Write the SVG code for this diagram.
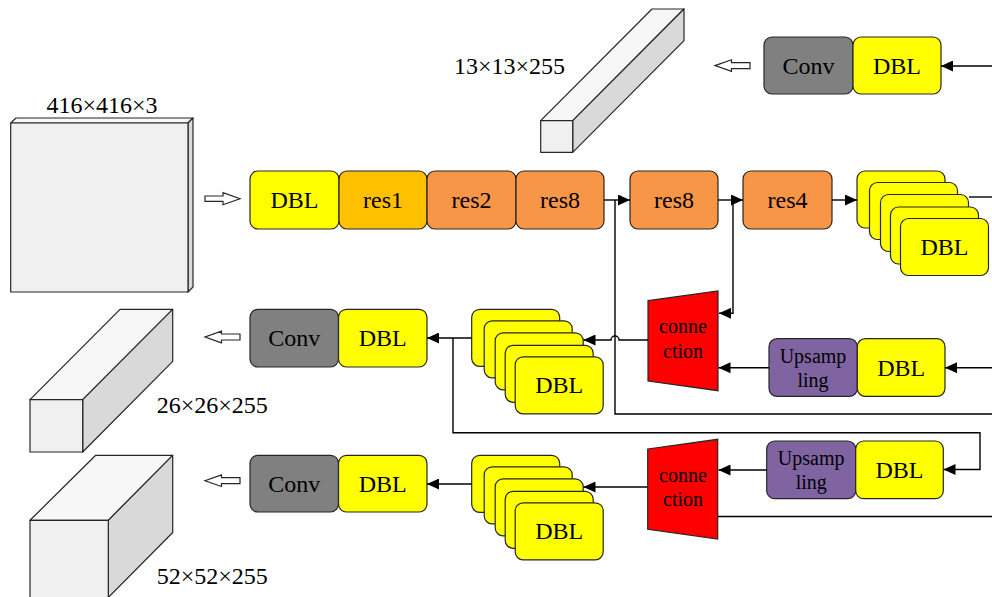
<svg xmlns="http://www.w3.org/2000/svg" width="992" height="597" viewBox="0 0 992 597">
<style>
.b{stroke:#262626;stroke-width:1.2}
.y{fill:#ffff00}
.o{fill:#f79646}
.r1{fill:#ffc000}
.g{fill:#808080}
.p{fill:#8064a2}
.rd{fill:#ff0000}
text{font-family:'Liberation Serif','DejaVu Serif',serif;fill:#000}
.t{font-size:24px;text-anchor:middle}
.ts{font-size:20px;text-anchor:middle}
.lab{font-size:24px}
.fr{fill:#f0f0f0;stroke:#262626;stroke-width:1.2;stroke-linejoin:round}
.tp{fill:#f7f7f7;stroke:#262626;stroke-width:1.2;stroke-linejoin:round}
.sd{fill:#d9d9d9;stroke:#262626;stroke-width:1.2;stroke-linejoin:round}
.oa{fill:#ffffff;stroke:#262626;stroke-width:1.2}
.c{fill:none;stroke:#000;stroke-width:1.4}
.ca{fill:none;stroke:#000;stroke-width:1.4;marker-end:url(#ah)}
</style>
<defs>
<marker id="ah" markerUnits="userSpaceOnUse" markerWidth="12" markerHeight="11" refX="12" refY="5.5" orient="auto">
<path d="M0,0 L12,5.5 L0,11 z" fill="#000"/>
</marker>
<g id="stk">
<rect x="0" y="0" width="88" height="57" rx="8" class="b y"/>
<rect x="12.5" y="11.5" width="88" height="57" rx="8" class="b y"/>
<rect x="23.5" y="23.5" width="88" height="57" rx="8" class="b y"/>
<rect x="33.5" y="36" width="88" height="57" rx="8" class="b y"/>
<rect x="43.5" y="47.5" width="88" height="57" rx="8" class="b y"/>
<text x="87.5" y="84" class="t" font-family="Liberation Serif, serif">DBL</text>
</g>
</defs>

<g id="input">
<path class="tp" d="M10.7,123 L16,118 H193 L188,123Z"/>
<path class="sd" d="M188,123 L193,118 V287 L188,292Z"/>
<rect class="fr" x="10.7" y="123" width="177.3" height="169"/>
<text class="t" x="102" y="112.7" font-family="Liberation Serif, serif">416×416×3</text>
</g>

<g id="out13">
<path class="tp" d="M540.7,120.7 L652,9 H684 L572.7,120.7Z"/>
<path class="sd" d="M572.7,120.7 L684,9 V40.7 L572.7,152.3Z"/>
<rect class="fr" x="540.7" y="120.7" width="32" height="31.6"/>
<text class="lab" x="454" y="74" font-family="Liberation Serif, serif">13×13×255</text>
</g>

<g id="out26">
<path class="tp" d="M30,399.7 L120,309.3 H172.7 L82.7,399.7Z"/>
<path class="sd" d="M82.7,399.7 L172.7,309.3 V361.3 L82.7,452Z"/>
<rect class="fr" x="30" y="399.7" width="52.7" height="52.3"/>
<text class="lab" x="156.7" y="413" font-family="Liberation Serif, serif">26×26×255</text>
</g>

<g id="out52">
<path class="tp" d="M30,520.3 L95.7,455.3 H172.7 L108.3,520.3Z"/>
<path class="sd" d="M108.3,520.3 L172.7,455.3 V532.5 L108.3,597.5Z"/>
<rect class="fr" x="30" y="520.3" width="78.3" height="80"/>
<text class="lab" x="156.7" y="584" font-family="Liberation Serif, serif">52×52×255</text>
</g>

<g id="openarrows">
<path class="oa" d="M205,196 H223 V192.7 L240,198.7 L223,204.7 V201.4 H205Z"/>
<path class="oa" d="M750,62.7 H731.5 V59.8 L715,65.6 L731.5,71.4 V68.6 H750Z"/>
<path class="oa" d="M240,334 H221.5 V331.2 L205,337 L221.5,342.8 V340 H240Z"/>
<path class="oa" d="M240,477.7 H221.5 V474.9 L205,480.7 L221.5,486.5 V483.7 H240Z"/>
</g>

<g id="n-dbl1"><rect x="250" y="171" width="89" height="58" rx="8" class="b y"/><text class="t" x="294.5" y="208.3" font-family="Liberation Serif, serif">DBL</text></g>
<g id="n-res1"><rect x="339" y="171" width="88" height="58" rx="8" class="b r1"/><text class="t" x="383" y="208.3" font-family="Liberation Serif, serif">res1</text></g>
<g id="n-res2"><rect x="427" y="171" width="89" height="58" rx="8" class="b o"/><text class="t" x="471.5" y="208.3" font-family="Liberation Serif, serif">res2</text></g>
<g id="n-res8a"><rect x="516" y="171" width="88" height="58" rx="8" class="b o"/><text class="t" x="560" y="208.3" font-family="Liberation Serif, serif">res8</text></g>
<g id="n-res8b"><rect x="630" y="171" width="88" height="58" rx="8" class="b o"/><text class="t" x="674" y="208.3" font-family="Liberation Serif, serif">res8</text></g>
<g id="n-res4"><rect x="743" y="171" width="89" height="58" rx="8" class="b o"/><text class="t" x="787.5" y="208.3" font-family="Liberation Serif, serif">res4</text></g>
<g id="n-stack1"><use href="#stk" x="857" y="171"/></g>

<g id="n-conv1"><rect x="764" y="37" width="89" height="57" rx="8" class="b g"/><text class="t" x="808.5" y="73.5" font-family="Liberation Serif, serif">Conv</text></g>
<g id="n-dbl13"><rect x="853" y="37" width="88" height="57" rx="8" class="b y"/><text class="t" x="897" y="73.5" font-family="Liberation Serif, serif">DBL</text></g>

<g id="n-conv2"><rect x="250" y="309.3" width="88.5" height="57.7" rx="8" class="b g"/><text class="t" x="294.2" y="346" font-family="Liberation Serif, serif">Conv</text></g>
<g id="n-dbl26"><rect x="338.5" y="309.3" width="88.5" height="57.7" rx="8" class="b y"/><text class="t" x="382.7" y="346" font-family="Liberation Serif, serif">DBL</text></g>
<g id="n-stack2"><use href="#stk" x="471.7" y="309.3"/></g>

<g id="n-conn1">
<path class="b rd" d="M648,300.7 L718,291 V390.7 L648,381Z"/>
<text class="ts" x="683" y="333" font-family="Liberation Serif, serif">conne</text>
<text class="ts" x="683" y="358" font-family="Liberation Serif, serif">ction</text>
</g>
<g id="n-up1"><rect x="769" y="338.7" width="88.3" height="57.6" rx="8" class="b p"/><text class="ts" x="813" y="362.7" font-family="Liberation Serif, serif">Upsamp</text><text class="ts" x="813" y="387" font-family="Liberation Serif, serif">ling</text></g>
<g id="n-dblup1"><rect x="857.3" y="338.7" width="87.7" height="57.6" rx="8" class="b y"/><text class="t" x="901.2" y="375.5" font-family="Liberation Serif, serif">DBL</text></g>

<g id="n-conv3"><rect x="250" y="455.3" width="88.5" height="56.7" rx="8" class="b g"/><text class="t" x="294.2" y="491.7" font-family="Liberation Serif, serif">Conv</text></g>
<g id="n-dbl52"><rect x="338.5" y="455.3" width="88.5" height="56.7" rx="8" class="b y"/><text class="t" x="382.7" y="491.7" font-family="Liberation Serif, serif">DBL</text></g>
<g id="n-stack3"><use href="#stk" x="471.7" y="455.3"/></g>

<g id="n-conn2">
<path class="b rd" d="M647.7,449 L717.7,439.3 V539 L647.7,529.3Z"/>
<text class="ts" x="683" y="482" font-family="Liberation Serif, serif">conne</text>
<text class="ts" x="683" y="506" font-family="Liberation Serif, serif">ction</text>
</g>
<g id="n-up2"><rect x="766.7" y="441" width="89" height="57.7" rx="8" class="b p"/><text class="ts" x="811.2" y="465" font-family="Liberation Serif, serif">Upsamp</text><text class="ts" x="811.2" y="489.3" font-family="Liberation Serif, serif">ling</text></g>
<g id="n-dblup2"><rect x="855.7" y="441" width="87.6" height="57.7" rx="8" class="b y"/><text class="t" x="899.5" y="478" font-family="Liberation Serif, serif">DBL</text></g>

<g id="connectors">
<path class="ca" d="M604,200 H630"/>
<path class="ca" d="M718,200 H743"/>
<path class="ca" d="M832,200 H857"/>
<path class="c" d="M969,197 H992"/>
<path class="ca" d="M992,66 H941"/>
<path class="c" d="M615,200 V414 H992"/>
<path class="ca" d="M733,200 V313.3 H719"/>
<path class="ca" d="M648,340 H619 A4,4 0 0 0 611,340 H583.5"/>
<path class="ca" d="M471.7,338 H427"/>
<path class="ca" d="M453,338 V432.7 H980 V469.5 H943.5"/>
<path class="ca" d="M992,367.7 H945"/>
<path class="ca" d="M769,367.7 H718.5"/>
<path class="ca" d="M766.7,470 H718.5"/>
<path class="c" d="M717.7,516.5 H992"/>
<path class="ca" d="M647.7,487 H583.5"/>
<path class="ca" d="M471.7,484 H427"/>
</g>
</svg>
